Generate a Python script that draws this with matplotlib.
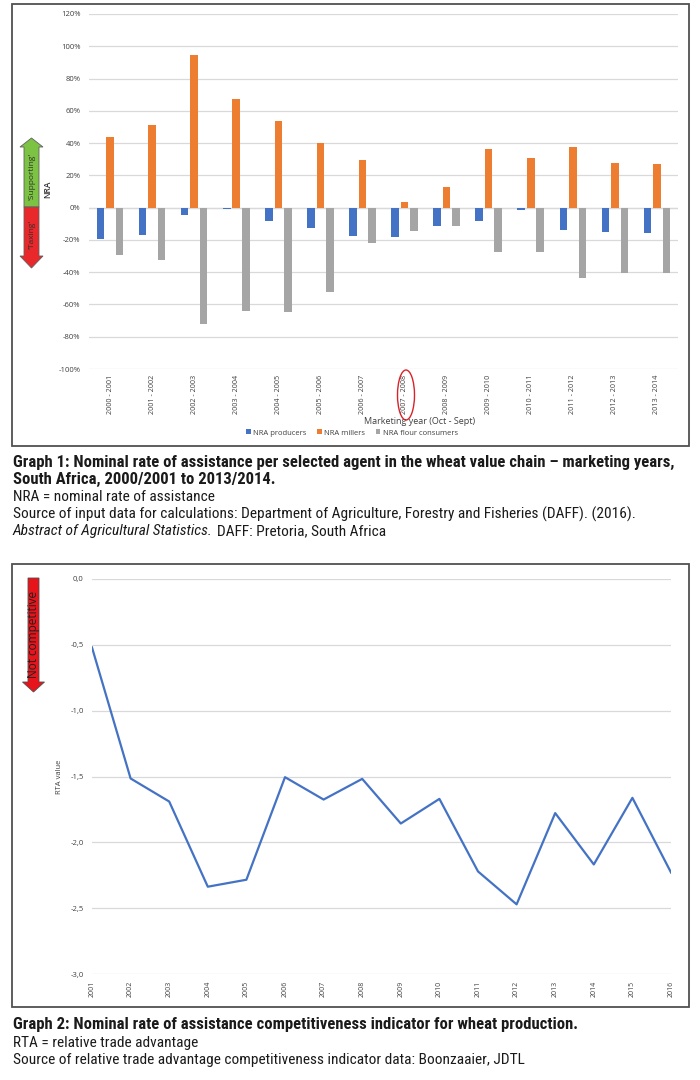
import matplotlib
matplotlib.use("Agg")
import matplotlib.pyplot as plt
from matplotlib.patches import Rectangle, Polygon, Ellipse
import numpy as np

# graph 1 data
years1 = ["2000 - 2001", "2001 - 2002", "2002 - 2003", "2003 - 2004", "2004 - 2005",
          "2005 - 2006", "2006 - 2007", "2007 - 2008", "2008 - 2009", "2009 - 2010",
          "2010 - 2011", "2011 - 2012", "2012 - 2013", "2013 - 2014"]
producers = [-19.4, -16.9, -4.5, -1.0, -8.0, -12.6, -17.7, -18.1, -11.5, -8.2, -1.4, -14.0, -15.3, -15.5]
millers = [43.7, 51.5, 94.4, 67.6, 54.0, 39.8, 29.7, 3.7, 13.0, 36.1, 30.7, 37.3, 27.8, 27.0]
consumers = [-29.1, -32.2, -72.2, -63.9, -64.9, -52.0, -21.9, -14.4, -11.1, -27.2, -27.8, -43.7, -40.6, -40.6]
series_names = ["NRA producers", "NRA millers", "NRA flour consumers"]

# graph 2 data
years2 = list(range(2001, 2017))
rta = [-0.52, -1.515, -1.69, -2.337, -2.284, -1.505, -1.675, -1.518, -1.857, -1.67,
       -2.221, -2.471, -1.778, -2.168, -1.662, -2.229]

W, H = 700, 1080
BLUE, ORANGE, GRAY = "#4472C4", "#ED7D31", "#A5A5A5"
GRID = "#D9D9D9"
TICKC = "#404040"
CHART_FONT = ["Open Sans", "DejaVu Sans"]
CAP_FONT = ["Roboto Condensed", "Liberation Sans Narrow", "Roboto", "DejaVu Sans"]


def rect(l, t, r, b):
    return [l / W, 1 - b / H, (r - l) / W, (b - t) / H]


fig = plt.figure(figsize=(W / 100, H / 100), dpi=100)
fig.patch.set_facecolor("white")

# frames round the charts
for (l, t, r, b) in [(12, 4, 689, 446), (12, 564, 689, 1007)]:
    fig.patches.append(Rectangle((l / W, 1 - b / H), (r - l) / W, (b - t) / H,
                                 transform=fig.transFigure, fill=False,
                                 edgecolor="#505050", linewidth=1.3))

# ---------------- graph 1 ----------------
ax1 = fig.add_axes(rect(89, 14, 678, 369))
x = np.arange(len(years1))
off, bw = 0.225, 0.18
ax1.bar(x - off, producers, bw, color=BLUE, label=series_names[0], zorder=3)
ax1.bar(x, millers, bw, color=ORANGE, label=series_names[1], zorder=3)
ax1.bar(x + off, consumers, bw, color=GRAY, label=series_names[2], zorder=3)
ax1.set_xlim(-0.5, len(years1) - 0.5)
ax1.set_ylim(-100, 120)
ax1.set_yticks(range(-100, 121, 20))
ax1.set_yticklabels([f"{v}%" for v in range(-100, 121, 20)], fontsize=5.5,
                    color=TICKC, family=CHART_FONT)
ax1.set_xticks(x)
ax1.set_xticklabels(years1, rotation=90, fontsize=5.2, color=TICKC, family=CHART_FONT)
ax1.grid(axis="y", color=GRID, linewidth=0.9, zorder=0)
ax1.axhline(0, color=GRID, linewidth=0.9, zorder=1)
ax1.tick_params(length=0, pad=6)
ax1.tick_params(axis="x", pad=4)
for s in ax1.spines.values():
    s.set_visible(False)
ax1.set_ylabel("NRA", fontsize=6, color="#303030", family=CHART_FONT, weight="semibold")
ax1.yaxis.set_label_coords((52 - 89) / 589, (369 - 189) / 355)
ax1.set_xlabel("Marketing year (Oct - Sept)", fontsize=6.5, color=TICKC, family=CHART_FONT)
ax1.xaxis.set_label_coords((420 - 89) / 589, (369 - 417) / 355)
ax1.legend(loc="center", bbox_to_anchor=((352 - 89) / 589, (369 - 433) / 355), ncol=3,
           frameon=False, handlelength=0.6, handleheight=0.6, handletextpad=0.3,
           columnspacing=1.4, prop={"family": CHART_FONT, "size": 5.5},
           labelcolor=TICKC)

# ---------------- graph 2 ----------------
ax2 = fig.add_axes(rect(92, 579, 671, 974))
ax2.plot(years2, rta, color=BLUE, linewidth=1.6, zorder=3)
ax2.set_xlim(years2[0], years2[-1])
ax2.set_ylim(-3.0, 0.0)
yt = np.arange(-3.0, 0.01, 0.5)
ax2.set_yticks(yt)
ax2.set_yticklabels([f"{v:.1f}".replace(".", ",").replace("-0,0", "0,0") for v in yt],
                    fontsize=5.5, color=TICKC, family=CHART_FONT)
ax2.set_xticks(years2)
ax2.set_xticklabels([str(y) for y in years2], rotation=90, fontsize=5,
                    color=TICKC, family=CHART_FONT)
ax2.grid(axis="y", color=GRID, linewidth=0.9, zorder=0)
ax2.tick_params(length=0, pad=6)
ax2.tick_params(axis="x", pad=5)
for s in ax2.spines.values():
    s.set_visible(False)
ax2.set_ylabel("RTA value", fontsize=5.5, color=TICKC, family=CHART_FONT)
ax2.yaxis.set_label_coords((63 - 92) / 579, (974 - 777) / 395)

# ---------------- overlay: arrows, circle ----------------
ov = fig.add_axes([0, 0, 1, 1])
ov.set_xlim(0, W)
ov.set_ylim(H, 0)
ov.axis("off")
ov.patch.set_alpha(0)

# double arrow of graph 1
cx, hw, hh, zero = 31.5, 7.5, 11.5, 207
ov.add_patch(Polygon([(cx - hw, zero), (cx - hw, 147), (cx - hh, 147), (cx, 138),
                      (cx + hh, 147), (cx + hw, 147), (cx + hw, zero)],
                     closed=True, facecolor="#7CC243", edgecolor="#606060", linewidth=0.6))
ov.add_patch(Polygon([(cx - hw, zero), (cx - hw, 256), (cx - hh, 256), (cx, 268),
                      (cx + hh, 256), (cx + hw, 256), (cx + hw, zero)],
                     closed=True, facecolor="#E8282B", edgecolor="#606060", linewidth=0.6))
ov.text(cx, 176, "'Supporting'", rotation=90, ha="center", va="center",
        fontsize=6, color="#303030", family=CHART_FONT)
ov.text(cx, 234, "'Taxing'", rotation=90, ha="center", va="center",
        fontsize=6, color="#303030", family=CHART_FONT)

# circle round 2007 - 2008
ov.add_patch(Ellipse((406, 395), 17, 50, fill=False, edgecolor="#D8232A", linewidth=1.0))

# arrow of graph 2
cx2 = 33.5
ov.add_patch(Polygon([(cx2 - 5.5, 578), (cx2 + 5.5, 578), (cx2 + 5.5, 682), (cx2 + 11, 682),
                      (cx2, 692), (cx2 - 11, 682), (cx2 - 5.5, 682)],
                     closed=True, facecolor="#E8141B", edgecolor="#505050", linewidth=0.6))
ov.text(cx2, 634, "Not competitive", rotation=90, ha="center", va="center",
        fontsize=8.5, color="#202020", family=CHART_FONT)

# ---------------- captions ----------------
bold_caps, plain_caps = [], []


def cap(px, y, s, bold=False, **kw):
    t = fig.text(px / W, 1 - y / H, s, ha="left", va="center", fontsize=10,
                 family=CAP_FONT, color="#1a1a1a",
                 weight="bold" if bold else "normal", **kw)
    (bold_caps if bold else plain_caps).append(t)
    return t


first = cap(13, 462, "Graph 1: Nominal rate of assistance per selected agent in the wheat value chain \u2013 marketing years,",
            bold=True)
cap(13, 479, "South Africa, 2000/2001 to 2013/2014.", bold=True)
cap(13, 497, "NRA = nominal rate of assistance")
src = cap(13, 514, "Source of input data for calculations: Department of Agriculture, Forestry and Fisheries (DAFF). (2016).")
ital = cap(13, 531, "Abstract of Agricultural Statistics.", style="italic")
rest = cap(176, 531, "DAFF: Pretoria, South Africa")
cap(13, 1024, "Graph 2: Nominal rate of assistance competitiveness indicator for wheat production.",
    bold=True)
cap(13, 1043, "RTA = relative trade advantage")
cap(13, 1060, "Source of relative trade advantage competitiveness indicator data: Boonzaaier, JDTL")

# fit caption sizes to the widths of the reference lines
renderer = fig.canvas.get_renderer()
bsize = 10 * (673 - 13) / first.get_window_extent(renderer).width
psize = 10 * (635 - 13) / src.get_window_extent(renderer).width
for t in bold_caps:
    t.set_fontsize(bsize)
for t in plain_caps:
    t.set_fontsize(psize)
wi = ital.get_window_extent(renderer).width
rest.set_x((13 + wi + psize * 0.4) / W)

fig.savefig("out.png", dpi=100, facecolor="white")
